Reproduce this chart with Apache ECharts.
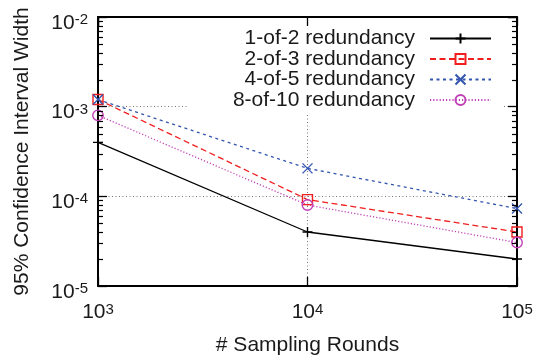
<!DOCTYPE html>
<html>
<head>
<meta charset="utf-8">
<script src="https://cdn.jsdelivr.net/npm/echarts@6/dist/echarts.min.js"></script>
<style>
html,body{margin:0;padding:0;background:#fff;}
#chart{width:546px;height:355px;}
</style>
</head>
<body>
<div id="chart"></div>
<script>
// ---- data ----
const rounds = [1000, 10000, 100000];
const seriesNames = ['1-of-2 redundancy', '2-of-3 redundancy', '4-of-5 redundancy', '8-of-10 redundancy'];
const red12 = [4.0e-4, 4.0e-5, 2.0e-5];
const red23 = [1.2e-3, 9.2e-5, 4.0e-5];
const red45 = [1.2e-3, 2.05e-4, 7.3e-5];
const red810 = [8.0e-4, 8.0e-5, 3.05e-5];
const xTickExps = [3, 4, 5];
const yTickExps = [-5, -4, -3, -2];
const yMinorMantissas = [2, 3, 4, 5, 6, 7, 8, 9];

const FONT = 'Liberation Sans';
const TXT = '#1a1a1a';

const yMinorTicks = [];
for (let e = yTickExps[0]; e < yTickExps[yTickExps.length - 1]; e++) {
  yMinorMantissas.forEach(m => yMinorTicks.push([rounds[0], m * Math.pow(10, e)]));
}

function supLabel(v) {
  const e = Math.round(Math.log10(v));
  return '{b|10}{s|' + e + '}';
}
const richLabel = {
  b: {fontSize: 21, lineHeight: 21, fontFamily: FONT, color: TXT, verticalAlign: 'bottom'},
  s: {fontSize: 15, lineHeight: 15, fontFamily: FONT, color: TXT, verticalAlign: 'top', padding: [0, 0, 11, 0]}
};

const xMin = Math.pow(10, xTickExps[0]), xMax = Math.pow(10, xTickExps[xTickExps.length - 1]);
const yMin = Math.pow(10, yTickExps[0]), yMax = Math.pow(10, yTickExps[yTickExps.length - 1]);

const axisLineStyle = {show: true, lineStyle: {color: '#000', width: 2}};
const splitDotted = {show: true, lineStyle: {color: '#777', width: 1, type: [1, 2.5]}};

function mkSeries(name, vals, color, lineType, symbol, size, hollow) {
  return {
    name: name,
    type: 'line',
    data: rounds.map((x, i) => [x, vals[i]]),
    symbol: symbol,
    symbolSize: size,
    showAllSymbol: true,
    lineStyle: {color: color, width: 1.3, type: lineType},
    itemStyle: {color: hollow ? 'rgba(0,0,0,0)' : color, borderColor: color, borderWidth: 1.4},
    emphasis: {disabled: true},
    z: 3
  };
}

const legendRowsTop = [28, 48.5, 69, 89.5];

const chart = echarts.init(document.getElementById('chart'), null, {renderer: 'canvas'});
chart.setOption({
  animation: false,
  backgroundColor: '#fff',
  grid: {left: 98, right: 29, top: 17, bottom: 69, containLabel: false, outerBoundsMode: 'none'},
  xAxis: [
    {
      type: 'log', logBase: 10, min: xMin, max: xMax,
      position: 'bottom',
      axisLine: axisLineStyle,
      axisTick: {show: true, inside: true, length: 9, lineStyle: {color: '#000', width: 1.3}},
      axisLabel: {formatter: supLabel, rich: richLabel, margin: 16, color: TXT},
      splitLine: splitDotted,
      name: '# Sampling Rounds', nameLocation: 'middle', nameGap: 49,
      nameTextStyle: {fontSize: 21, fontFamily: FONT, color: TXT}
    },
    {
      type: 'log', logBase: 10, min: xMin, max: xMax,
      position: 'top',
      axisLine: axisLineStyle,
      axisTick: {show: true, inside: true, length: 9, lineStyle: {color: '#000', width: 1.3}},
      axisLabel: {show: false},
      splitLine: {show: false}
    }
  ],
  yAxis: [
    {
      type: 'log', logBase: 10, min: yMin, max: yMax,
      position: 'left',
      axisLine: axisLineStyle,
      axisTick: {show: true, inside: true, length: 9, lineStyle: {color: '#000', width: 1.3}},
      axisLabel: {formatter: supLabel, rich: richLabel, margin: 10, color: TXT, padding: [12, 0, 0, 0]},
      splitLine: splitDotted,
      name: '95% Confidence Interval Width', nameLocation: 'middle', nameGap: 65,
      nameTextStyle: {fontSize: 21, fontFamily: FONT, color: TXT}
    },
    {
      type: 'log', logBase: 10, min: yMin, max: yMax,
      position: 'right',
      axisLine: axisLineStyle,
      axisTick: {show: true, inside: true, length: 9, lineStyle: {color: '#000', width: 1.3}},
      axisLabel: {show: false},
      splitLine: {show: false}
    }
  ],
  graphic: [
    {type: 'rect', shape: {x: 187, y: 27, width: 316, height: 86}, style: {fill: '#fff'}, z: 1, silent: true}
  ],
  legend: seriesNames.map((n, i) => ({
    data: [n],
    right: 54,
    top: legendRowsTop[i],
    padding: 0,
    align: 'right',
    itemWidth: 61,
    itemHeight: 12.5,
    selectedMode: false,
    textStyle: {fontSize: 21, lineHeight: 21, fontFamily: FONT, color: TXT, padding: [0, 10, 0, 0]}
  })),
  series: [
    mkSeries(seriesNames[0], red12, '#000000', 'solid', 'path://M5,0L5,10M0,5L10,5', 10, true),
    mkSeries(seriesNames[1], red23, '#f01e1e', [6, 3.5], 'rect', 10, true),
    mkSeries(seriesNames[2], red45, '#3355b0', [3, 3.5], 'path://M0,0L10,10M10,0L0,10', 10, true),
    mkSeries(seriesNames[3], red810, '#c040b8', [1.2, 2], 'circle', 10.5, true),
    {
      type: 'custom',
      silent: true,
      xAxisIndex: 0, yAxisIndex: 0,
      data: yMinorTicks,
      clip: false,
      z: 4,
      renderItem: function (params, api) {
        const p = api.coord([api.value(0), api.value(1)]);
        const cs = params.coordSys;
        const y = Math.round(p[1]) + 0.5;
        const st = {stroke: '#000', lineWidth: 1.2};
        return {
          type: 'group',
          children: [
            {type: 'line', shape: {x1: cs.x, y1: y, x2: cs.x + 5, y2: y}, style: st},
            {type: 'line', shape: {x1: cs.x + cs.width - 5, y1: y, x2: cs.x + cs.width, y2: y}, style: st}
          ]
        };
      }
    }
  ]
});
</script>
</body>
</html>
